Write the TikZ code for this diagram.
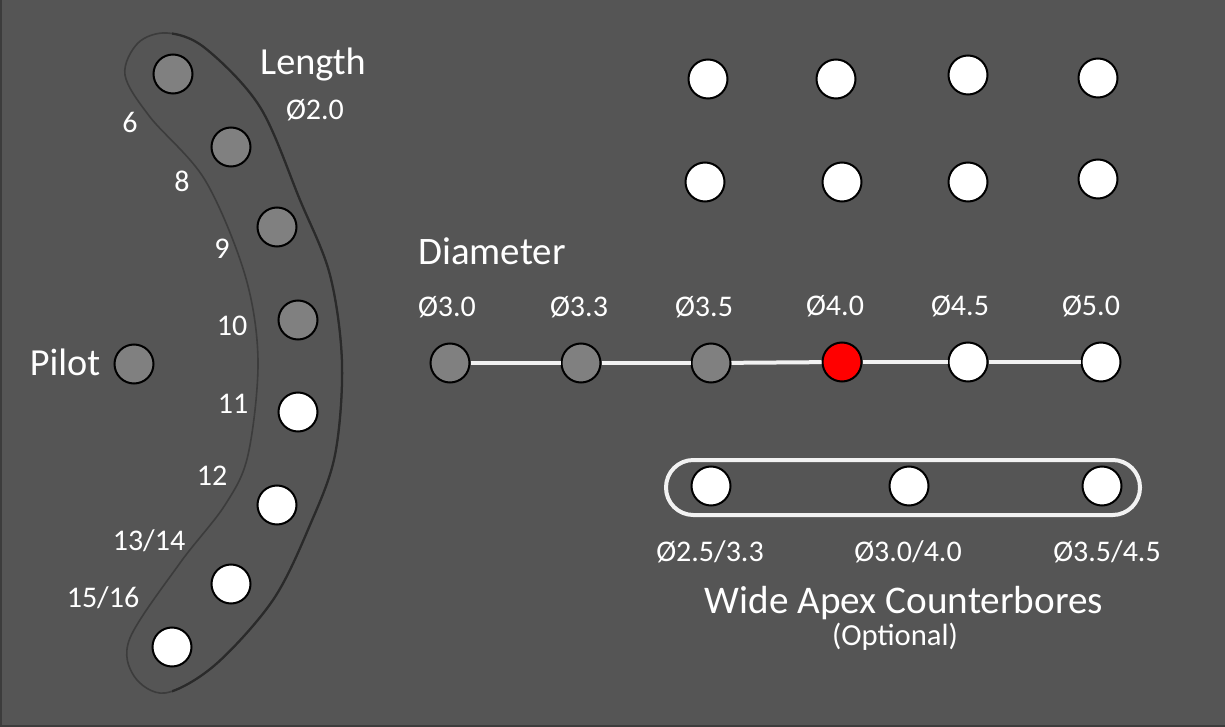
\documentclass[tikz,border=0pt]{standalone}
\usepackage{fontspec}
\setmainfont{Carlito}
\definecolor{bg}{HTML}{555555}
\definecolor{holegray}{HTML}{808080}
\definecolor{bandouter}{HTML}{2A2A2A}
\definecolor{bandinner}{HTML}{3C3C3C}
\definecolor{frameline}{HTML}{3C3C3C}
\tikzset{
  hole/.style={circle, draw=black, line width=1.5pt, minimum size=29.25pt, inner sep=0pt},
  grayhole/.style={hole, fill=holegray},
  whitehole/.style={hole, fill=white},
  redhole/.style={hole, fill=red},
  numlbl/.style={text=white, inner sep=0pt, anchor=base, font=\fontsize{22.5}{24}\selectfont},
  biglbl/.style={text=white, inner sep=0pt, anchor=base, font=\fontsize{28.7}{30}\selectfont},
  wline/.style={draw=white!95!black, line width=3pt},
  bandpath/.style={smooth cycle, tension=0.55},
}
\newcommand{\bandcoords}{(167,33) (205,48) (260,107) (300,200) (330,275) (342,363) (335,455)
  (310,525) (273,600) (215,665) (165,693) (134,676) (130,638)
  (180,563) (225,505) (248,455) (258,360) (245,275) (205,180)
  (150,117) (125,75) (138,43)}
\begin{document}
\begin{tikzpicture}[x=0.75pt, y=-0.75pt]
\fill[bg] (0,0) rectangle (1225,727);
\useasboundingbox (0,0) rectangle (1225,727);
\draw[frameline, line width=1.5pt] (0.75,0) -- (0.75,726.25) -- (1225,726.25);

% curved band around length holes: lighter inner edge, darker outer edge
\draw[bandinner, line width=1.2pt] plot[bandpath] coordinates {\bandcoords};
\begin{scope}
  \clip (172,0) -- (420,0) -- (420,727) -- (172,727) -- (172,647) -- (231,584) -- (277,505)
        -- (298,412) -- (298,320) -- (277,227) -- (231,147) -- (172,74) -- cycle;
  \draw[bandouter, line width=1.7pt] plot[bandpath] coordinates {\bandcoords};
\end{scope}

% length holes
\node[grayhole] (L6) at (173,74) {};
\node[grayhole] (L8) at (231,147) {};
\node[grayhole] (L9) at (277,227) {};
\node[grayhole] (L10) at (298,320) {};
\node[whitehole] (L11) at (298,412) {};
\node[whitehole] (L12) at (277,505) {};
\node[whitehole] (L13) at (231,584) {};
\node[whitehole] (L15) at (172,647) {};
\node[grayhole] (pilot) at (134,364) {};

\node[biglbl] (lenlbl) at (313,75) {Length};
\node[numlbl] (lendia) at (315,120) {Ø2.0};
\node[numlbl] (t6) at (130,133) {6};
\node[numlbl] (t8) at (182,192) {8};
\node[numlbl] (t9) at (222,259) {9};
\node[numlbl] (t10) at (232,335) {10};
\node[numlbl] (t11) at (233,413) {11};
\node[numlbl] (t12) at (212,485) {12};
\node[numlbl] (t13) at (149,550) {13/14};
\node[numlbl] (t15) at (103,607) {15/16};
\node[biglbl] (pilotlbl) at (65,376) {Pilot};

% top grid
\node[whitehole] (g11) at (708,79) {};
\node[whitehole] (g12) at (836,79) {};
\node[whitehole] (g13) at (968,75) {};
\node[whitehole] (g14) at (1098,78) {};
\node[whitehole] (g21) at (705,182) {};
\node[whitehole] (g22) at (842,182) {};
\node[whitehole] (g23) at (968,182) {};
\node[whitehole] (g24) at (1098,179) {};

% diameter row
\node[text=white, inner sep=0pt, anchor=base west, font=\fontsize{29.2}{31}\selectfont] (dialbl) at (418,265) {Diameter};
\node[grayhole] (D1) at (450,363) {};
\node[grayhole] (D2) at (581,363) {};
\node[grayhole] (D3) at (711,363) {};
\node[redhole] (D4) at (842,362) {};
\node[whitehole] (D5) at (968,362) {};
\node[whitehole] (D6) at (1101,362) {};
\draw[wline] (D1) -- (D2);
\draw[wline] (D2) -- (D3);
\draw[wline] (D3) -- (D4);
\draw[wline] (D4) -- (D5);
\draw[wline] (D5) -- (D6);
\node[numlbl] (d1) at (447,317) {Ø3.0};
\node[numlbl] (d2) at (579,317) {Ø3.3};
\node[numlbl] (d3) at (704,317) {Ø3.5};
\node[numlbl] (d4) at (835,316) {Ø4.0};
\node[numlbl] (d5) at (960,316) {Ø4.5};
\node[numlbl] (d6) at (1091,316) {Ø5.0};

% counterbores
\draw[draw=white!95!black, line width=3pt, rounded corners=20.5pt] (666,460) rectangle (1140,515);
\node[whitehole] (c1) at (711,486) {};
\node[whitehole] (c2) at (909,486) {};
\node[whitehole] (c3) at (1102,486) {};
\node[numlbl] (cl1) at (710,561) {Ø2.5/3.3};
\node[numlbl] (cl2) at (908,561) {Ø3.0/4.0};
\node[numlbl] (cl3) at (1107,561) {Ø3.5/4.5};
\node[biglbl, font=\fontsize{29.4}{31}\selectfont] (wide) at (904,613) {Wide Apex Counterbores};
\node[numlbl, font=\fontsize{23}{25}\selectfont] (opt) at (895,645) {(Optional)};
\end{tikzpicture}
\end{document}
